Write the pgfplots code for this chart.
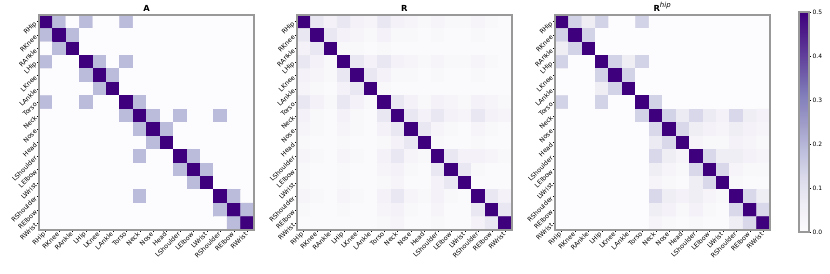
\documentclass[border=0pt]{standalone}
\usepackage{pgfplots}
\pgfplotsset{compat=1.18}
\usepackage{pgfplotstable}
\usepackage{fontspec}
\setmainfont{DejaVu Sans}

\pgfplotsset{
  colormap={purples}{rgb255(0)=(252,251,253) rgb255(1)=(239,237,245) rgb255(2)=(218,218,235) rgb255(3)=(188,189,220) rgb255(4)=(158,154,200) rgb255(5)=(128,125,186) rgb255(6)=(106,81,163) rgb255(7)=(84,39,143) rgb255(8)=(63,0,125)},
  hm/.style={
    scale only axis, width=154.8pt, height=154.8pt,
    enlargelimits=false, xmin=-0.5, xmax=15.5, ymin=-0.5, ymax=15.5, y dir=reverse,
    xtick={0,...,15}, ytick={0,...,15},
    xticklabels={RHip,RKnee,RAnkle,LHip,LKnee,LAnkle,Torso,Neck,Nose,Head,LShoulder,LElbow,LWrist,RShoulder,RElbow,RWrist},
    yticklabels={RHip,RKnee,RAnkle,LHip,LKnee,LAnkle,Torso,Neck,Nose,Head,LShoulder,LElbow,LWrist,RShoulder,RElbow,RWrist},
    xticklabel style={rotate=45, anchor=east, font=\fontsize{4.6}{5}\selectfont, inner sep=1pt},
    yticklabel style={rotate=45, anchor=east, font=\fontsize{4.6}{5}\selectfont, inner sep=1pt},
    xtick pos=lower, ytick pos=left, tick align=outside, major tick length=1.5pt,
    tick style={black, line width=0.4pt},
    colormap name=purples, point meta min=0, point meta max=0.5,
    axis on top, axis line style={draw=gray!80, line width=0.9pt},
    every axis title/.style={at={(0.5,1)}, anchor=base, yshift=2.6pt, inner sep=0pt, font=\bfseries\fontsize{6}{7}\selectfont},
  },
}

\pgfplotstableread[row sep=\\]{
x y c\\
0 0 .5\\1 0 .19\\2 0 0\\3 0 .19\\4 0 0\\5 0 0\\6 0 .19\\7 0 0\\8 0 0\\9 0 0\\10 0 0\\11 0 0\\12 0 0\\13 0 0\\14 0 0\\15 0 0\\
0 1 .19\\1 1 .5\\2 1 .19\\3 1 0\\4 1 0\\5 1 0\\6 1 0\\7 1 0\\8 1 0\\9 1 0\\10 1 0\\11 1 0\\12 1 0\\13 1 0\\14 1 0\\15 1 0\\
0 2 0\\1 2 .19\\2 2 .5\\3 2 0\\4 2 0\\5 2 0\\6 2 0\\7 2 0\\8 2 0\\9 2 0\\10 2 0\\11 2 0\\12 2 0\\13 2 0\\14 2 0\\15 2 0\\
0 3 .19\\1 3 0\\2 3 0\\3 3 .5\\4 3 .19\\5 3 0\\6 3 .19\\7 3 0\\8 3 0\\9 3 0\\10 3 0\\11 3 0\\12 3 0\\13 3 0\\14 3 0\\15 3 0\\
0 4 0\\1 4 0\\2 4 0\\3 4 .19\\4 4 .5\\5 4 .19\\6 4 0\\7 4 0\\8 4 0\\9 4 0\\10 4 0\\11 4 0\\12 4 0\\13 4 0\\14 4 0\\15 4 0\\
0 5 0\\1 5 0\\2 5 0\\3 5 0\\4 5 .19\\5 5 .5\\6 5 0\\7 5 0\\8 5 0\\9 5 0\\10 5 0\\11 5 0\\12 5 0\\13 5 0\\14 5 0\\15 5 0\\
0 6 .19\\1 6 0\\2 6 0\\3 6 .19\\4 6 0\\5 6 0\\6 6 .5\\7 6 .19\\8 6 0\\9 6 0\\10 6 0\\11 6 0\\12 6 0\\13 6 0\\14 6 0\\15 6 0\\
0 7 0\\1 7 0\\2 7 0\\3 7 0\\4 7 0\\5 7 0\\6 7 .19\\7 7 .5\\8 7 .19\\9 7 0\\10 7 .19\\11 7 0\\12 7 0\\13 7 .19\\14 7 0\\15 7 0\\
0 8 0\\1 8 0\\2 8 0\\3 8 0\\4 8 0\\5 8 0\\6 8 0\\7 8 .19\\8 8 .5\\9 8 .19\\10 8 0\\11 8 0\\12 8 0\\13 8 0\\14 8 0\\15 8 0\\
0 9 0\\1 9 0\\2 9 0\\3 9 0\\4 9 0\\5 9 0\\6 9 0\\7 9 0\\8 9 .19\\9 9 .5\\10 9 0\\11 9 0\\12 9 0\\13 9 0\\14 9 0\\15 9 0\\
0 10 0\\1 10 0\\2 10 0\\3 10 0\\4 10 0\\5 10 0\\6 10 0\\7 10 .19\\8 10 0\\9 10 0\\10 10 .5\\11 10 .19\\12 10 0\\13 10 0\\14 10 0\\15 10 0\\
0 11 0\\1 11 0\\2 11 0\\3 11 0\\4 11 0\\5 11 0\\6 11 0\\7 11 0\\8 11 0\\9 11 0\\10 11 .19\\11 11 .5\\12 11 .19\\13 11 0\\14 11 0\\15 11 0\\
0 12 0\\1 12 0\\2 12 0\\3 12 0\\4 12 0\\5 12 0\\6 12 0\\7 12 0\\8 12 0\\9 12 0\\10 12 0\\11 12 .19\\12 12 .5\\13 12 0\\14 12 0\\15 12 0\\
0 13 0\\1 13 0\\2 13 0\\3 13 0\\4 13 0\\5 13 0\\6 13 0\\7 13 .19\\8 13 0\\9 13 0\\10 13 0\\11 13 0\\12 13 0\\13 13 .5\\14 13 .19\\15 13 0\\
0 14 0\\1 14 0\\2 14 0\\3 14 0\\4 14 0\\5 14 0\\6 14 0\\7 14 0\\8 14 0\\9 14 0\\10 14 0\\11 14 0\\12 14 0\\13 14 .19\\14 14 .5\\15 14 .19\\
0 15 0\\1 15 0\\2 15 0\\3 15 0\\4 15 0\\5 15 0\\6 15 0\\7 15 0\\8 15 0\\9 15 0\\10 15 0\\11 15 0\\12 15 0\\13 15 0\\14 15 .19\\15 15 .5\\
}\tabA

\pgfplotstableread[row sep=\\]{
x y c\\
0 0 .5\\1 0 .08\\2 0 .04\\3 0 .08\\4 0 .04\\5 0 .03\\6 0 .08\\7 0 .04\\8 0 .03\\9 0 .02\\10 0 .03\\11 0 .02\\12 0 .02\\13 0 .03\\14 0 .02\\15 0 .01\\
0 1 .08\\1 1 .5\\2 1 .08\\3 1 .04\\4 1 .03\\5 1 .02\\6 1 .04\\7 1 .02\\8 1 .02\\9 1 .01\\10 1 .02\\11 1 .01\\12 1 .01\\13 1 .02\\14 1 .01\\15 1 .01\\
0 2 .04\\1 2 .08\\2 2 .5\\3 2 .02\\4 2 .02\\5 2 .01\\6 2 .02\\7 2 .01\\8 2 .01\\9 2 .01\\10 2 .01\\11 2 .01\\12 2 .01\\13 2 .01\\14 2 .01\\15 2 .01\\
0 3 .08\\1 3 .04\\2 3 .02\\3 3 .5\\4 3 .08\\5 3 .04\\6 3 .08\\7 3 .04\\8 3 .03\\9 3 .02\\10 3 .03\\11 3 .02\\12 3 .02\\13 3 .03\\14 3 .02\\15 3 .01\\
0 4 .04\\1 4 .03\\2 4 .02\\3 4 .08\\4 4 .5\\5 4 .08\\6 4 .04\\7 4 .02\\8 4 .02\\9 4 .01\\10 4 .02\\11 4 .01\\12 4 .01\\13 4 .02\\14 4 .01\\15 4 .01\\
0 5 .03\\1 5 .02\\2 5 .01\\3 5 .04\\4 5 .08\\5 5 .5\\6 5 .02\\7 5 .01\\8 5 .01\\9 5 .01\\10 5 .01\\11 5 .01\\12 5 .01\\13 5 .01\\14 5 .01\\15 5 .01\\
0 6 .08\\1 6 .04\\2 6 .02\\3 6 .08\\4 6 .04\\5 6 .02\\6 6 .5\\7 6 .08\\8 6 .04\\9 6 .02\\10 6 .04\\11 6 .03\\12 6 .02\\13 6 .04\\14 6 .03\\15 6 .02\\
0 7 .04\\1 7 .02\\2 7 .01\\3 7 .04\\4 7 .02\\5 7 .01\\6 7 .08\\7 7 .5\\8 7 .08\\9 7 .04\\10 7 .08\\11 7 .04\\12 7 .03\\13 7 .08\\14 7 .04\\15 7 .03\\
0 8 .03\\1 8 .02\\2 8 .01\\3 8 .03\\4 8 .02\\5 8 .01\\6 8 .04\\7 8 .08\\8 8 .5\\9 8 .08\\10 8 .03\\11 8 .02\\12 8 .01\\13 8 .03\\14 8 .02\\15 8 .01\\
0 9 .02\\1 9 .01\\2 9 .01\\3 9 .02\\4 9 .01\\5 9 .01\\6 9 .02\\7 9 .04\\8 9 .08\\9 9 .5\\10 9 .02\\11 9 .01\\12 9 .01\\13 9 .02\\14 9 .01\\15 9 .01\\
0 10 .03\\1 10 .02\\2 10 .01\\3 10 .03\\4 10 .02\\5 10 .01\\6 10 .04\\7 10 .08\\8 10 .03\\9 10 .02\\10 10 .5\\11 10 .08\\12 10 .04\\13 10 .04\\14 10 .03\\15 10 .02\\
0 11 .02\\1 11 .01\\2 11 .01\\3 11 .02\\4 11 .01\\5 11 .01\\6 11 .03\\7 11 .04\\8 11 .02\\9 11 .01\\10 11 .08\\11 11 .5\\12 11 .08\\13 11 .02\\14 11 .01\\15 11 .01\\
0 12 .02\\1 12 .01\\2 12 .01\\3 12 .02\\4 12 .01\\5 12 .01\\6 12 .02\\7 12 .03\\8 12 .01\\9 12 .01\\10 12 .04\\11 12 .08\\12 12 .5\\13 12 .01\\14 12 .01\\15 12 .01\\
0 13 .03\\1 13 .02\\2 13 .01\\3 13 .03\\4 13 .02\\5 13 .01\\6 13 .04\\7 13 .08\\8 13 .03\\9 13 .02\\10 13 .04\\11 13 .02\\12 13 .01\\13 13 .5\\14 13 .08\\15 13 .04\\
0 14 .02\\1 14 .01\\2 14 .01\\3 14 .02\\4 14 .01\\5 14 .01\\6 14 .03\\7 14 .04\\8 14 .02\\9 14 .01\\10 14 .03\\11 14 .01\\12 14 .01\\13 14 .08\\14 14 .5\\15 14 .08\\
0 15 .01\\1 15 .01\\2 15 .01\\3 15 .01\\4 15 .01\\5 15 .01\\6 15 .02\\7 15 .03\\8 15 .01\\9 15 .01\\10 15 .02\\11 15 .01\\12 15 .01\\13 15 .04\\14 15 .08\\15 15 .5\\
}\tabR

\pgfplotstableread[row sep=\\]{
x y c\\
0 0 .5\\1 0 .14\\2 0 .06\\3 0 .14\\4 0 0\\5 0 0\\6 0 .14\\7 0 0\\8 0 0\\9 0 0\\10 0 0\\11 0 0\\12 0 0\\13 0 0\\14 0 0\\15 0 0\\
0 1 .14\\1 1 .5\\2 1 .14\\3 1 0\\4 1 0\\5 1 0\\6 1 0\\7 1 0\\8 1 0\\9 1 0\\10 1 0\\11 1 0\\12 1 0\\13 1 0\\14 1 0\\15 1 0\\
0 2 .06\\1 2 .14\\2 2 .5\\3 2 0\\4 2 0\\5 2 0\\6 2 0\\7 2 0\\8 2 0\\9 2 0\\10 2 0\\11 2 0\\12 2 0\\13 2 0\\14 2 0\\15 2 0\\
0 3 .14\\1 3 0\\2 3 0\\3 3 .5\\4 3 .14\\5 3 .06\\6 3 .14\\7 3 0\\8 3 0\\9 3 0\\10 3 0\\11 3 0\\12 3 0\\13 3 0\\14 3 0\\15 3 0\\
0 4 0\\1 4 0\\2 4 0\\3 4 .14\\4 4 .5\\5 4 .14\\6 4 0\\7 4 0\\8 4 0\\9 4 0\\10 4 0\\11 4 0\\12 4 0\\13 4 0\\14 4 0\\15 4 0\\
0 5 0\\1 5 0\\2 5 0\\3 5 .06\\4 5 .14\\5 5 .5\\6 5 0\\7 5 0\\8 5 0\\9 5 0\\10 5 0\\11 5 0\\12 5 0\\13 5 0\\14 5 0\\15 5 0\\
0 6 .14\\1 6 0\\2 6 0\\3 6 .14\\4 6 0\\5 6 0\\6 6 .5\\7 6 .14\\8 6 0\\9 6 0\\10 6 0\\11 6 0\\12 6 0\\13 6 0\\14 6 0\\15 6 0\\
0 7 0\\1 7 0\\2 7 0\\3 7 0\\4 7 0\\5 7 0\\6 7 .14\\7 7 .5\\8 7 .14\\9 7 .07\\10 7 .13\\11 7 .07\\12 7 .04\\13 7 .13\\14 7 .06\\15 7 .04\\
0 8 0\\1 8 0\\2 8 0\\3 8 0\\4 8 0\\5 8 0\\6 8 0\\7 8 .13\\8 8 .5\\9 8 .13\\10 8 .06\\11 8 .04\\12 8 .03\\13 8 .06\\14 8 .04\\15 8 .03\\
0 9 0\\1 9 0\\2 9 0\\3 9 0\\4 9 0\\5 9 0\\6 9 0\\7 9 .07\\8 9 .13\\9 9 .5\\10 9 .03\\11 9 .02\\12 9 .02\\13 9 .04\\14 9 .03\\15 9 .02\\
0 10 0\\1 10 0\\2 10 0\\3 10 0\\4 10 0\\5 10 0\\6 10 0\\7 10 .13\\8 10 .06\\9 10 .03\\10 10 .5\\11 10 .13\\12 10 .06\\13 10 .06\\14 10 .04\\15 10 .03\\
0 11 0\\1 11 0\\2 11 0\\3 11 0\\4 11 0\\5 11 0\\6 11 0\\7 11 .06\\8 11 .03\\9 11 .02\\10 11 .13\\11 11 .5\\12 11 .13\\13 11 .03\\14 11 .02\\15 11 .02\\
0 12 0\\1 12 0\\2 12 0\\3 12 0\\4 12 0\\5 12 0\\6 12 0\\7 12 .03\\8 12 .02\\9 12 .01\\10 12 .06\\11 12 .13\\12 12 .5\\13 12 .02\\14 12 .01\\15 12 .01\\
0 13 0\\1 13 0\\2 13 0\\3 13 0\\4 13 0\\5 13 0\\6 13 0\\7 13 .13\\8 13 .06\\9 13 .04\\10 13 .06\\11 13 .03\\12 13 .02\\13 13 .5\\14 13 .13\\15 13 .06\\
0 14 0\\1 14 0\\2 14 0\\3 14 0\\4 14 0\\5 14 0\\6 14 0\\7 14 .06\\8 14 .04\\9 14 .02\\10 14 .04\\11 14 .02\\12 14 .01\\13 14 .13\\14 14 .5\\15 14 .13\\
0 15 0\\1 15 0\\2 15 0\\3 15 0\\4 15 0\\5 15 0\\6 15 0\\7 15 .03\\8 15 .02\\9 15 .01\\10 15 .02\\11 15 .01\\12 15 .01\\13 15 .06\\14 15 .13\\15 15 .5\\
}\tabRhip

\begin{document}
\begin{tikzpicture}
\useasboundingbox (0,0) rectangle (597.6pt,196.6pt);
\begin{axis}[hm, at={(28.1pt,31pt)}, anchor=south west, title={A}]
\addplot[matrix plot*, mesh/cols=16, point meta=explicit] table[x=x, y=y, meta=c] {\tabA};
\end{axis}
\begin{axis}[hm, at={(213.8pt,31pt)}, anchor=south west, title={R}]
\addplot[matrix plot*, mesh/cols=16, point meta=explicit] table[x=x, y=y, meta=c] {\tabR};
\end{axis}
\begin{axis}[hm, at={(399.6pt,31pt)}, anchor=south west, title={R\textsuperscript{\mdseries\itshape hip}},
  colorbar,
  colorbar style={
    at={(parent axis.north east)}, anchor=north west, xshift=12.3pt, yshift=2.2pt,
    scale only axis, width=7.2pt, height=158.4pt,
    ytick={0,0.1,0.2,0.3,0.4,0.5},
    ytick pos=right, yticklabel pos=right, tick align=outside, major tick length=1.5pt,
    tick style={black, line width=0.4pt},
    axis line style={draw=gray!80, line width=0.9pt},
    yticklabel style={font=\fontsize{4.3}{5}\selectfont, inner sep=1pt,
      /pgf/number format/fixed, /pgf/number format/fixed zerofill,
      /pgf/number format/precision=1, /pgf/number format/assume math mode=true},
  }]
\addplot[matrix plot*, mesh/cols=16, point meta=explicit] table[x=x, y=y, meta=c] {\tabRhip};
\end{axis}
\end{tikzpicture}
\end{document}
